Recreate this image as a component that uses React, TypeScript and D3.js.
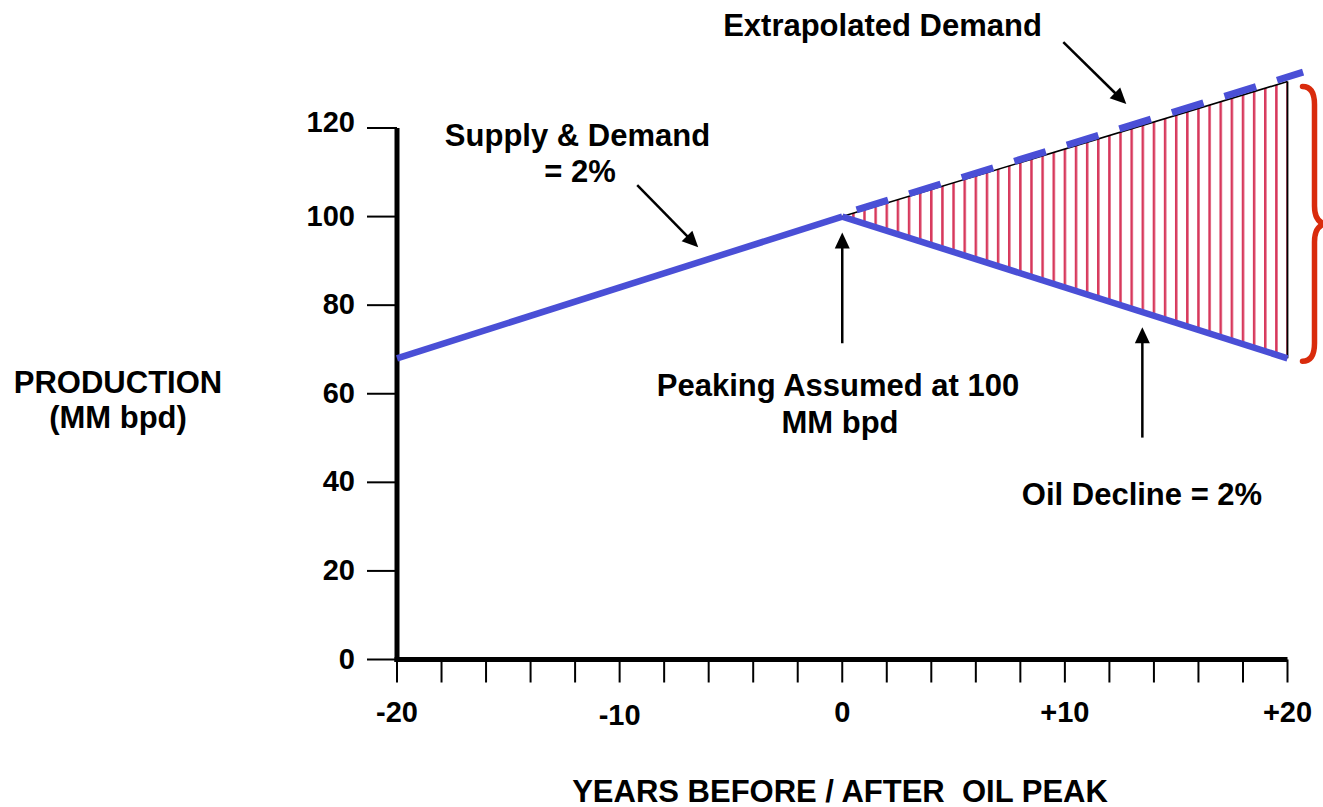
import React from "react";
import * as d3 from "d3";

// ---- data ----
const supplyYears = [-20, 0];
const supplyValues = [68, 100];
const declineYears = [0, 20];
const declineValues = [100, 68];
const demandYears = [0, 20];
const demandValues = [100, 130.5];
const extrapYears = [0, 20.7];
const extrapValues = [100.5, 132.6];

const xTickValues = d3.range(-20, 21, 2);
const xLabelValues = [-20, -10, 0, 10, 20];
const xLabelTexts = ["-20", "-10", "0", "+10", "+20"];
const yTickValues = [0, 20, 40, 60, 80, 100, 120];

const W = 1323;
const H = 807;
const FONT = "'Liberation Sans', Arial, Helvetica, sans-serif";
const BLUE = "#4A4FD6";
const HATCH = "#D7385C";
const BRACE = "#D92B0C";

const x = d3.scaleLinear().domain([-20, 20]).range([397, 1287.5]);
const y = d3.scaleLinear().domain([0, 120]).range([659.5, 128]);

type P = [number, number];
const zip = (xs: number[], ys: number[]): P[] => xs.map((v, i) => [v, ys[i]]);
const line = d3
  .line<P>()
  .x((d) => x(d[0]))
  .y((d) => y(d[1]));

function Arrow({ from, to }: { from: P; to: P }) {
  const x1 = x(from[0]);
  const y1 = y(from[1]);
  const x2 = x(to[0]);
  const y2 = y(to[1]);
  const dx = x2 - x1;
  const dy = y2 - y1;
  const len = Math.hypot(dx, dy);
  const ux = dx / len;
  const uy = dy / len;
  const hl = 16;
  const hw = 7.5;
  const bx = x2 - ux * hl;
  const by = y2 - uy * hl;
  const pts = [
    [x2, y2],
    [bx - uy * hw, by + ux * hw],
    [bx + uy * hw, by - ux * hw],
  ]
    .map((p) => p.join(","))
    .join(" ");
  return (
    <g>
      <line x1={x1} y1={y1} x2={bx + ux * 2} y2={by + uy * 2} stroke="#000" strokeWidth={2.5} />
      <polygon points={pts} fill="#000" />
    </g>
  );
}

export default function App() {
  const supply = zip(supplyYears, supplyValues);
  const decline = zip(declineYears, declineValues);
  const demand = zip(demandYears, demandValues);
  const extrap = zip(extrapYears, extrapValues);

  const areaPts = zip(declineYears, declineValues).map((d, i) => ({
    yr: d[0],
    lo: d[1],
    hi: demandValues[i],
  }));
  const area = d3
    .area<{ yr: number; lo: number; hi: number }>()
    .x((d) => x(d.yr))
    .y0((d) => y(d.lo))
    .y1((d) => y(d.hi));

  const step = x(0.5) - x(0);

  const yEndTop = y(demandValues[1]) + 5;
  const yEndBot = y(declineValues[1]) + 3;
  const xL = x(20) + 15;
  const xS = xL + 12;
  const xT = xL + 22;
  const yMid = (yEndTop + yEndBot) / 2;
  const brace = `M${xL},${yEndTop} Q${xS},${yEndTop} ${xS},${yEndTop + 18} L${xS},${yMid - 18} Q${xS},${yMid - 3} ${xT},${yMid} Q${xS},${yMid + 3} ${xS},${yMid + 18} L${xS},${yEndBot - 18} Q${xS},${yEndBot} ${xL},${yEndBot}`;

  const textStyle: React.CSSProperties = {
    fontFamily: FONT,
    fontWeight: 700,
    fontSize: 31,
    fill: "#000",
  };

  return (
    <svg
      width={W}
      height={H}
      viewBox={`0 0 ${W} ${H}`}
      style={{ position: "absolute", left: 0, top: 0, background: "#fff" }}
    >
      <defs>
        <pattern
          id="hatch"
          patternUnits="userSpaceOnUse"
          x={x(0) - 1.25}
          y={0}
          width={step}
          height={10}
        >
          <rect x={0} y={0} width={2.5} height={10} fill={HATCH} />
        </pattern>
      </defs>
      <rect x={0} y={0} width={W} height={H} fill="#fff" />

      {/* hatched gap */}
      <path d={area(areaPts) || ""} fill="url(#hatch)" />
      <path d={line(demand) || ""} fill="none" stroke="#000" strokeWidth={1.6} />
      <line
        x1={x(20)}
        x2={x(20)}
        y1={y(demandValues[1])}
        y2={y(declineValues[1])}
        stroke="#000"
        strokeWidth={1.8}
      />

      {/* axes */}
      {yTickValues.map((v) => (
        <line key={"yt" + v} x1={367} x2={397} y1={y(v)} y2={y(v)} stroke="#000" strokeWidth={2} />
      ))}
      {xTickValues.map((v) => (
        <line key={"xt" + v} x1={x(v)} x2={x(v)} y1={y(0)} y2={y(0) + 23} stroke="#000" strokeWidth={2} />
      ))}
      <line x1={x(-20)} x2={x(-20)} y1={y(120)} y2={y(0) + 2.5} stroke="#000" strokeWidth={5} />
      <line x1={x(-20) - 2.5} x2={x(20)} y1={y(0)} y2={y(0)} stroke="#000" strokeWidth={5} />

      {yTickValues.map((v) => (
        <text
          key={"yl" + v}
          x={355}
          y={y(v) + (v === 120 ? 4 : 9)}
          textAnchor="end"
          style={{ ...textStyle, fontSize: 29 }}
        >
          {v}
        </text>
      ))}
      {xLabelValues.map((v, i) => (
        <text
          key={"xl" + v}
          x={x(v)}
          y={v === -10 ? 725 : 722}
          textAnchor="middle"
          style={{ ...textStyle, fontSize: 29 }}
        >
          {xLabelTexts[i]}
        </text>
      ))}

      {/* series */}
      <path d={line(supply) || ""} fill="none" stroke={BLUE} strokeWidth={6.5} />
      <path d={line(decline) || ""} fill="none" stroke={BLUE} strokeWidth={6.5} />
      <path
        d={line(extrap) || ""}
        fill="none"
        stroke={BLUE}
        strokeWidth={7}
        strokeDasharray="33 22"
        strokeDashoffset={40}
      />

      {/* brace */}
      <path d={brace} fill="none" stroke={BRACE} strokeWidth={5.5} strokeLinecap="round" />

      {/* annotations */}
      <Arrow from={[9.93, 139.4]} to={[12.76, 125.4]} />
      <Arrow from={[-9.21, 107.1]} to={[-6.47, 93.05]} />
      <Arrow from={[0, 71.4]} to={[0, 96.4]} />
      <Arrow from={[13.48, 50.1]} to={[13.48, 75]} />

      <text x={882.5} y={36} textAnchor="middle" style={textStyle}>
        Extrapolated Demand
      </text>
      <text x={577.5} y={146} textAnchor="middle" style={textStyle}>
        Supply &amp; Demand
      </text>
      <text x={580} y={182} textAnchor="middle" style={textStyle}>
        = 2%
      </text>
      <text x={838} y={396} textAnchor="middle" style={textStyle}>
        Peaking Assumed at 100
      </text>
      <text x={840} y={433} textAnchor="middle" style={textStyle}>
        MM bpd
      </text>
      <text x={1142} y={505} textAnchor="middle" style={textStyle}>
        Oil Decline = 2%
      </text>
      <text x={118} y={393} textAnchor="middle" style={textStyle}>
        PRODUCTION
      </text>
      <text x={118} y={428} textAnchor="middle" style={textStyle}>
        (MM bpd)
      </text>
      <text x={840} y={802} textAnchor="middle" style={{ ...textStyle, whiteSpace: "pre" }} xmlSpace="preserve">
        {"YEARS BEFORE / AFTER  OIL PEAK"}
      </text>
    </svg>
  );
}
